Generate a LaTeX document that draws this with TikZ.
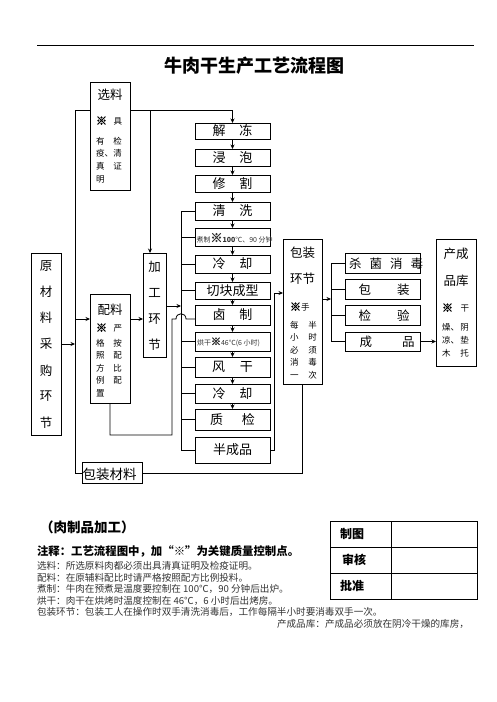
\documentclass[tikz,border=0pt]{standalone}
\usepackage{fontspec}
\usetikzlibrary{arrows.meta}
\newfontfamily\cjk{Noto Sans CJK SC}
\newfontfamily\xmkfont{Noto Sans CJK SC}[FakeBold=3.5]
\newcommand\fs[1]{\fontsize{#1}{#1}\selectfont}
\newcommand\xmk[1][11]{{\xmkfont\fs{#1}※}}
\newcommand\lrp[3][26pt]{\makebox[#1][l]{#2\hfill#3}}
\begin{document}
\begin{tikzpicture}[x=1pt,y=-1pt,
  every node/.style={inner sep=0pt, outer sep=0pt, font=\cjk},
  fz/.style={font=\cjk\fs{#1}},
  bx/.style args={#1/#2}{draw, line width=0.9pt, minimum width=#1pt, minimum height=#2pt},
  ln/.style={line width=0.8pt},
  arr/.style={line width=0.8pt, -{Stealth[length=4.5pt,width=4pt]}},
  sm/.style={font=\cjk\fs{8.5}},
  gr/.style={text=black!80}]
\path[use as bounding box] (0,0) rectangle (496,702);

% header
\draw[line width=1pt] (37,45) -- (474,45);
\node[font=\cjk\fs{18}\bfseries] (title) at (254,66) {牛肉干生产工艺流程图};

% main column
\node[bx=75/16, fz=13] (jd) at (232.5,131) {解\hspace{14pt}冻};
\node[bx=75/17, fz=13] (jp) at (232.5,157.5) {浸\hspace{14pt}泡};
\node[bx=75/17, fz=13] (xg) at (232.5,183.5) {修\hspace{14pt}割};
\node[bx=75/18, fz=13] (qx) at (232.5,211) {清\hspace{14pt}洗};
\node[bx=75/18] (zz) at (232.5,237) {};
\node[bx=75/18, fz=13] (lq) at (232.5,264) {冷\hspace{14pt}却};
\node[bx=75/17, fz=13] (qk) at (232.5,290.5) {切块成型};
\node[bx=75/20, fz=13] (lz) at (232.5,315) {卤\hspace{14pt}制};
\node[bx=75/19] (hg) at (232.5,341.5) {};
\node[bx=75/20, fz=13] (fg) at (232.5,367) {风\hspace{15pt}干};
\node[bx=75/19, fz=13] (lq2) at (232.5,393.5) {冷\hspace{14pt}却};
\node[bx=75/21, fz=13] (zj) at (232.5,419.5) {质\hspace{19pt}检};
\node[bx=75/26, fz=13] (bcp) at (232.5,450) {半成品};

\node[anchor=west, gr] (zzt) at (196.5,238) {{\fs{7}煮制}\xmk[12]{\fs{7}\bfseries 100}{\fs{7}℃、90 分钟}};
\node[anchor=west, gr] (hgt) at (197,342) {{\fs{7}烘干}\xmk[10]{\fs{7}46℃(6 小时)}};

% left boxes
\node[bx=40/108] (xl) at (110,136) {};
\node[fz=12.5] (xlt) at (110,95) {选料};
\node[sm, anchor=west] (xl1) at (96,121) {\lrp{\xmk}{具}};
\node[sm, anchor=west] (xl2) at (96,141) {\lrp{有}{检}};
\node[sm, anchor=west] (xl3) at (96,153.5) {\lrp{疫、}{清}};
\node[sm, anchor=west] (xl4) at (96,166) {\lrp{真}{证}};
\node[sm, anchor=west] (xl5) at (96,179) {明};

\node[bx=40/109] (pl) at (110,348.5) {};
\node[fz=12.5] (plt) at (110,310) {配料};
\node[sm, anchor=west] (pl1) at (96,328) {\lrp{\xmk}{严}};
\node[sm, anchor=west] (pl2) at (96,343) {\lrp{格}{按}};
\node[sm, anchor=west] (pl3) at (96,355.5) {\lrp{照}{配}};
\node[sm, anchor=west] (pl4) at (96,368) {\lrp{方}{比}};
\node[sm, anchor=west] (pl5) at (96,380.5) {\lrp{例}{配}};
\node[sm, anchor=west] (pl6) at (96,393) {置};

\node[bx=30/182] (ycl) at (46,344) {};
\foreach \c [count=\i] in {原,材,料,采,购,环,节}
  \node[fz=12.5] (ycl\i) at (46,{266+26.1*(\i-1)}) {\c};

\node[bx=23/104] (jg) at (154.5,305) {};
\foreach \c [count=\i] in {加,工,环,节}
  \node[fz=12.5] (jg\i) at (154.5,{267+26*(\i-1)}) {\c};

\node[bx=60/21] (bzcl) at (112,473) {};
\node[fz=13.5] (bzclt) at (109.5,474) {包装材料};

% right part
\node[bx=39/145] (bzhj) at (302.5,311.5) {};
\node[fz=12.5] (bzhj1) at (302.5,253) {包装};
\node[fz=12.5] (bzhj2) at (302.5,279) {环节};
\node[sm, anchor=west] (bzhj3) at (290,307) {\xmk 手};
\node[sm, anchor=west] (bzhj4) at (290,325) {\lrp[27pt]{每}{半}};
\node[sm, anchor=west] (bzhj5) at (290,337.5) {\lrp[27pt]{小}{时}};
\node[sm, anchor=west] (bzhj6) at (290,350) {\lrp[27pt]{必}{须}};
\node[sm, anchor=west] (bzhj7) at (290,362.5) {\lrp[27pt]{消}{毒}};
\node[sm, anchor=west] (bzhj8) at (290,375) {\lrp[27pt]{一}{次}};

\node[bx=75/20] (sj) at (382.5,263) {};
\node[bx=75/20] (bz) at (382.5,289) {};
\node[bx=75/20] (jy) at (382.5,315) {};
\node[bx=75/19] (cp) at (382.5,341.5) {};
\node[fz=12.5] (sjt) at (386,263.5) {杀\hspace{8pt}菌\hspace{8pt}消\hspace{8pt}毒};
\node[fz=12.5] (bzt) at (384,289.5) {包\hspace{26pt}装};
\node[fz=12.5] (jyt) at (384,315.5) {检\hspace{26pt}验};
\node[fz=12.5] (cpt) at (387,342) {成\hspace{30pt}品};

\node[bx=40/127] (ccpk) at (456,302.5) {};
\node[fz=12.5] (ccpk1) at (456,254) {产成};
\node[fz=12.5] (ccpk2) at (456,281) {品库};
\node[sm, anchor=west] (ccpk3) at (442,308) {\lrp[27pt]{\xmk}{干}};
\node[sm, anchor=west] (ccpk4) at (442,327) {\lrp[27pt]{燥、}{阴}};
\node[sm, anchor=west] (ccpk5) at (442,340) {\lrp[27pt]{凉、}{垫}};
\node[sm, anchor=west] (ccpk6) at (442,353) {\lrp[27pt]{木}{托}};

% coordinates
\coordinate (tl) at (75,110);
\coordinate (jgt) at (150,110);
\coordinate (bus) at (181,306);
\coordinate (r319) at (0,319);
\coordinate (hop) at (172,435);
\coordinate (rb) at (274,293);
\coordinate (bus2) at (331,299);

% connectors
\draw[ln] (tl -| xl.west) -- (tl) -- (tl |- bzcl.west) -- (bzcl.west);
\draw[arr] (tl -| xl.east) -| (jd.north);
\draw[arr] (jgt) -- (jgt |- jg.north);
\draw[arr] (ycl.east) -- (ycl.east -| tl);
\draw[arr] (tl |- r319) -- (pl.west |- r319);
\draw[arr] (pl.east |- r319) -- (jg.west |- r319);
\draw[arr] (jg.east |- bus) -- (bus);
\draw[ln] (pl.south) |- (hop) -- (hop |- r319) -- ++(4,0) .. controls +(0,-7) and +(0,-7) .. ++(10,0) -- (lz.west |- r319);

\foreach \a/\b in {jd/jp,jp/xg,xg/qx,qx/zz,zz/lq,lq/qk,qk/lz,lz/hg,hg/fg,fg/lq2,lq2/zj}
  \draw[arr] (\a.south) -- (\b.north);
\draw[ln] (bus |- qx.west) -- (bus |- bcp.west);
\foreach \n in {qx,zz,lq,qk,hg,fg,lq2,zj,bcp}
  \draw[ln] (\n.west) -- (\n.west -| bus);

\draw[ln] (bzcl.east) -| (bzhj.south);
\draw[arr] (bcp.east) -| (rb) -- (rb -| bzhj.west);
\draw[arr] (bzhj.east |- bus2) -- (bus2);
\draw[ln] (bus2 |- sj.west) -- (bus2 |- cp.west);
\foreach \n in {sj,bz,jy,cp}
  \draw[ln] (\n.west) -- (\n.west -| bus2);
\draw[arr] (cp.east) -- (cp.east -| ccpk.west);

% notes
\node[anchor=west, font=\cjk\fs{13.5}\bfseries] (n0) at (40,527) {（肉制品加工）};
\node[anchor=west, font=\cjk\fs{11.4}\bfseries] (n1) at (37,551) {注释：工艺流程图中，加“※”为关键质量控制点。};
\node[anchor=west, fz=9.6, gr] (n2) at (37,566) {选料：所选原料肉都必须出具清真证明及检疫证明。};
\node[anchor=west, fz=9.6, gr] (n3) at (37,577.5) {配料：在原辅料配比时请严格按照配方比例投料。};
\node[anchor=west, fz=9.6, gr] (n4) at (37,589) {煮制：牛肉在预煮是温度要控制在 100℃，90 分钟后出炉。};
\node[anchor=west, fz=9.6, gr] (n5) at (37,600.5) {烘干：肉干在烘烤时温度控制在 46℃，6 小时后出烤房。};
\node[anchor=west, fz=9.6, gr] (n6) at (37,612) {包装环节：包装工人在操作时双手清洗消毒后，工作每隔半小时要消毒双手一次。};
\node[anchor=west, fz=9.6, gr] (n7) at (277,623.5) {产成品库：产成品必须放在阴冷干燥的库房，};

% table
\node[bx=61/26] (c11) at (360.5,534) {};
\node[bx=86/26] (c12) at (434,534) {};
\node[bx=61/26] (c21) at (360.5,560) {};
\node[bx=86/26] (c22) at (434,560) {};
\node[bx=61/26] (c31) at (360.5,586) {};
\node[bx=86/26] (c32) at (434,586) {};
\node[font=\cjk\fs{12}\bfseries] (c11t) at (352,534) {制图};
\node[font=\cjk\fs{12}\bfseries] (c21t) at (354,560) {审核};
\node[font=\cjk\fs{12}\bfseries] (c31t) at (352,586) {批准};
\end{tikzpicture}
\end{document}
